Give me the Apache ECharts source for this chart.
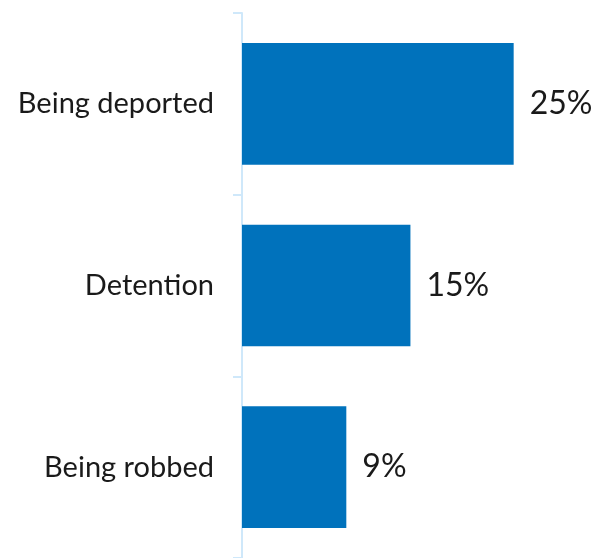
<!DOCTYPE html>
<html>
<head>
<meta charset="utf-8">
<style>html,body{margin:0;padding:0;background:#fff;}#chart{width:596px;height:558px;}</style>
<script src="https://cdn.jsdelivr.net/npm/echarts@6/dist/echarts.min.js"></script>
</head>
<body>
<div id="chart"></div>
<script>
const categories = ['Being deported', 'Detention', 'Being robbed'];
const values = [25, 15.5, 9.6];
const valueLabels = ['25%', '15%', '9%'];

const chart = echarts.init(document.getElementById('chart'));
chart.setOption({
  animation: false,
  grid: { left: 242, right: 28, top: 13, bottom: 0, containLabel: false },
  xAxis: {
    type: 'value', min: 0, max: 30,
    show: false
  },
  yAxis: {
    type: 'category',
    data: categories,
    inverse: true,
    axisLine: { show: true, lineStyle: { color: '#cfe8fa', width: 2 } },
    axisTick: { show: true, length: 9, lineStyle: { color: '#cfe8fa', width: 2 } },
    axisLabel: { fontFamily: 'Lato', fontSize: 29, color: '#1a1a1a', margin: 28 },
    splitLine: { show: false }
  },
  series: [{
    type: 'bar',
    data: values,
    barCategoryGap: '33%',
    itemStyle: { color: '#0072bc' },
    label: {
      show: true, position: 'right', distance: 16,
      fontFamily: 'Lato', fontSize: 32, color: '#1a1a1a',
      formatter: p => valueLabels[p.dataIndex]
    }
  }]
});
</script>
</body>
</html>
